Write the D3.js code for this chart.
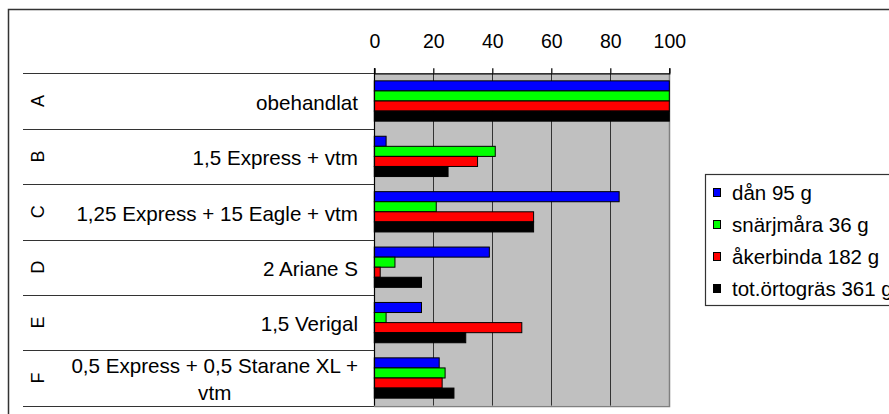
<!DOCTYPE html>
<html>
<head>
<meta charset="utf-8">
<script src="https://cdn.jsdelivr.net/npm/d3@7"></script>
<style>
  html, body { margin: 0; padding: 0; background: #fff; }
  svg { display: block; font-family: "Liberation Sans", Arial, sans-serif; }
</style>
</head>
<body>
<svg id="chart" width="889" height="414"></svg>
<script>
// ---- data ----
const letters = ["A", "B", "C", "D", "E", "F"];
const treatments = [
  "obehandlat",
  "1,5 Express + vtm",
  "1,25 Express + 15 Eagle + vtm",
  "2 Ariane S",
  "1,5 Verigal",
  "0,5 Express + 0,5 Starane XL + vtm"
];
const seriesNames = ["dån 95 g", "snärjmåra 36 g", "åkerbinda 182 g", "tot.örtogräs 361 g"];
const danValues = [100, 4, 83, 39, 16, 22];
const snarjmaraValues = [100, 41, 21, 7, 4, 24];
const akerbindaValues = [100, 35, 54, 2, 50, 23];
const totValues = [100, 25, 54, 16, 31, 27];
const tickValues = [0, 20, 40, 60, 80, 100];
const seriesColors = ["#0000ff", "#00ff00", "#ff0000", "#000000"];

const seriesValues = [danValues, snarjmaraValues, akerbindaValues, totValues];

// ---- layout ----
const svg = d3.select("#chart");
const plotLeft = 374.3, plotRight = 669.3, plotTop = 73.3, plotBottom = 405.7;
const labelFont = 20.6;

// outer chart border
svg.append("rect")
  .attr("x", 8.5).attr("y", 9.5)
  .attr("width", 1000).attr("height", 1000)
  .attr("fill", "#fff").attr("stroke", "#333").attr("stroke-width", 1.5);

const x = d3.scaleLinear().domain([0, 100]).range([plotLeft, plotRight]);
const y = d3.scaleBand().domain(letters).range([plotTop, plotBottom]).padding(0);
const inner = d3.scaleBand().domain(d3.range(seriesNames.length))
  .range([0, y.bandwidth()]).paddingOuter(0.75).paddingInner(0);

// plot background
svg.append("rect")
  .attr("x", plotLeft).attr("y", plotTop)
  .attr("width", plotRight - plotLeft).attr("height", plotBottom - plotTop)
  .attr("fill", "#c0c0c0");

// gridlines
svg.append("g").selectAll("line")
  .data(tickValues.filter(v => v > 0 && v < 100))
  .join("line")
  .attr("x1", d => Math.round(x(d)) + 0.5).attr("x2", d => Math.round(x(d)) + 0.5)
  .attr("y1", plotTop).attr("y2", plotBottom)
  .attr("stroke", "#333").attr("stroke-width", 1);

// plot right and bottom border
svg.append("path")
  .attr("d", `M${Math.round(plotRight) + 0.5},${plotTop} V${Math.round(plotBottom) + 0.5} H${plotLeft}`)
  .attr("fill", "none").attr("stroke", "#808080").attr("stroke-width", 1.5);

// table lines at category boundaries (left side)
const boundaries = letters.map(l => y(l)).concat([plotBottom]);
svg.append("g").selectAll("line")
  .data(boundaries)
  .join("line")
  .attr("x1", 23).attr("x2", plotLeft)
  .attr("y1", d => Math.round(d) + 0.5).attr("y2", d => Math.round(d) + 0.5)
  .attr("stroke", "#333").attr("stroke-width", 1.2);

// bars
letters.forEach((cat, ci) => {
  seriesValues.forEach((vals, si) => {
    svg.append("rect")
      .attr("x", x(0))
      .attr("y", y(cat) + inner(si))
      .attr("width", x(vals[ci]) - x(0))
      .attr("height", inner.bandwidth())
      .attr("fill", seriesColors[si])
      .attr("stroke", "#000")
      .attr("stroke-width", 1);
  });
});

// left axis line
svg.append("line")
  .attr("x1", Math.round(plotLeft) + 0.5).attr("x2", Math.round(plotLeft) + 0.5)
  .attr("y1", plotTop - 5).attr("y2", plotBottom)
  .attr("stroke", "#000").attr("stroke-width", 1.2);

// top axis
const axis = d3.axisTop(x).tickValues(tickValues).tickSize(5).tickPadding(20)
  .tickFormat(d3.format("d"));
const ag = svg.append("g").attr("transform", `translate(0,${plotTop})`).call(axis);
ag.select(".domain").attr("stroke", "#000").attr("stroke-width", 1.2);
ag.selectAll(".tick line").attr("stroke", "#000").attr("stroke-width", 1.2);
ag.selectAll(".tick text")
  .attr("font-family", "'Liberation Sans', Arial, sans-serif")
  .attr("font-size", 19.5).attr("fill", "#000");

// category letters (rotated)
svg.append("g").selectAll("text")
  .data(letters)
  .join("text")
  .attr("transform", d => `translate(44,${y(d) + y.bandwidth() / 2}) rotate(-90)`)
  .attr("text-anchor", "middle")
  .attr("font-size", 18)
  .attr("fill", "#000")
  .text(d => d);

// treatment labels
const labelRight = 358;
treatments.forEach((t, i) => {
  const cy = y(letters[i]) + y.bandwidth() / 2;
  if (i === 5) {
    const lines = ["0,5 Express + 0,5 Starane XL +", "vtm"];
    const tmp = svg.append("text").attr("font-size", labelFont).text(lines[0]);
    const w = tmp.node().getComputedTextLength();
    tmp.remove();
    const cx = labelRight - w / 2;
    const tx = svg.append("text")
      .attr("text-anchor", "middle")
      .attr("font-size", labelFont)
      .attr("fill", "#000");
    tx.append("tspan").attr("x", cx).attr("y", cy - 5).text(lines[0]);
    tx.append("tspan").attr("x", cx).attr("y", cy + 22).text(lines[1]);
  } else {
    svg.append("text")
      .attr("x", labelRight)
      .attr("y", cy)
      .attr("dy", "0.43em")
      .attr("text-anchor", "end")
      .attr("font-size", labelFont)
      .attr("fill", "#000")
      .text(t);
  }
});

// legend
const legX = 705, legY = 174;
svg.append("rect")
  .attr("x", legX + 0.5).attr("y", legY + 0.5)
  .attr("width", 300).attr("height", 131)
  .attr("fill", "#fff").attr("stroke", "#333").attr("stroke-width", 1.2);
const legRow = d3.scaleBand().domain(d3.range(seriesNames.length)).range([legY + 2.5, legY + 130.5]);
seriesNames.forEach((name, i) => {
  const cy = legRow(i) + legRow.bandwidth() / 2;
  svg.append("rect")
    .attr("x", 713.5).attr("y", cy - 4)
    .attr("width", 7).attr("height", 8)
    .attr("fill", seriesColors[i]).attr("stroke", "#000").attr("stroke-width", 1);
  svg.append("text")
    .attr("x", 732).attr("y", cy).attr("dy", "0.36em")
    .attr("font-size", 20.5).attr("fill", "#000")
    .text(name);
});
</script>
</body>
</html>
